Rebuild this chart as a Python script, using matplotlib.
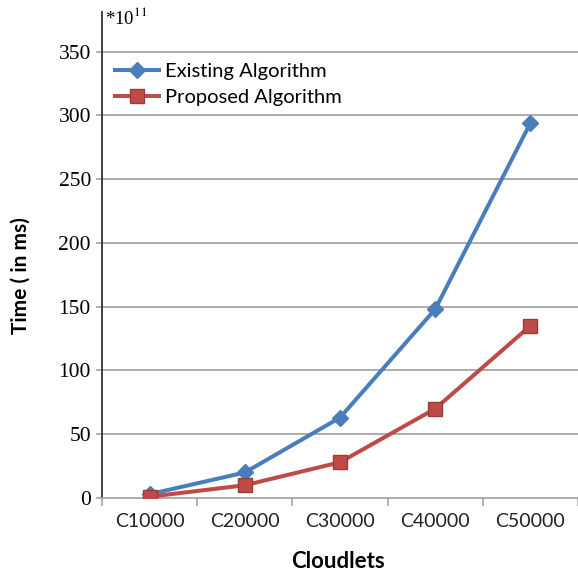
import matplotlib
matplotlib.use("Agg")
import matplotlib.pyplot as plt
import numpy as np

# ==== DATA ====
cloudlets = ["C10000", "C20000", "C30000", "C40000", "C50000"]
existing = [3, 20, 63, 148, 294]
proposed = [1, 10, 28, 70, 135]
y_ticks = [0, 50, 100, 150, 200, 250, 300, 350]

blue = "#4A7EBB"
red = "#BE4B48"
grid_col = "#A6A6A6"

plt.rcParams["mathtext.fontset"] = "stix"

fig = plt.figure(figsize=(5.78, 5.75), dpi=100)
ax = fig.add_axes([102 / 578, 77 / 575, 476 / 578, 486 / 575])

x = np.arange(len(cloudlets))
ax.plot(x, existing, color=blue, lw=2.9, marker="D", ms=8,
        mfc=blue, mec=blue, label="Existing Algorithm", zorder=3)
ax.plot(x, proposed, color=red, lw=2.9, marker="s", ms=10,
        mfc=red, mec="#A03A37", label="Proposed Algorithm", zorder=3)

ax.set_xlim(-0.5, len(cloudlets) - 0.5)
ax.set_ylim(0, 381)

# grid lines
for v in y_ticks[1:]:
    ax.axhline(v, color=grid_col, lw=1.3, zorder=1)

for s in ["top", "right"]:
    ax.spines[s].set_visible(False)
ax.spines["left"].set_color("#333333")
ax.spines["left"].set_linewidth(1.3)
ax.spines["bottom"].set_color(grid_col)
ax.spines["bottom"].set_linewidth(1.3)

ax.set_yticks(y_ticks)
ax.set_yticklabels([str(v) for v in y_ticks], family="Liberation Serif", fontsize=15.5)
ax.tick_params(axis="y", length=4, width=1.2, color=grid_col, pad=4)

ax.set_xticks(x)
ax.set_xticklabels(cloudlets, family="Lato", fontsize=14, color="#222222")
ax.set_xticks(np.arange(-0.5, len(cloudlets)), minor=True)
ax.tick_params(axis="x", which="major", length=0, pad=11)
ax.tick_params(axis="x", which="minor", length=6, width=1.2, color=grid_col)

fig.text(21 / 578, 1 - 276 / 575, "Time ( in ms)", rotation=90, ha="center",
         va="center", family="Lato", fontweight="bold", fontsize=15)
fig.text(338 / 578, 1 - 562 / 575, "Cloudlets", ha="center", va="center",
         family="Lato", fontweight="bold", fontsize=16)

fig.text(105 / 578, 1 - 17 / 575, r"*10$^{11}$", ha="left", va="center",
         family="Liberation Serif", fontsize=13.5)

leg = ax.legend(loc="upper left", bbox_to_anchor=(0.01, 0.912), frameon=False,
                prop={"family": "Lato", "size": 14.5}, handlelength=2.2,
                handletextpad=0.3, labelspacing=0.45, borderaxespad=0)

fig.savefig("out.png", dpi=100)
